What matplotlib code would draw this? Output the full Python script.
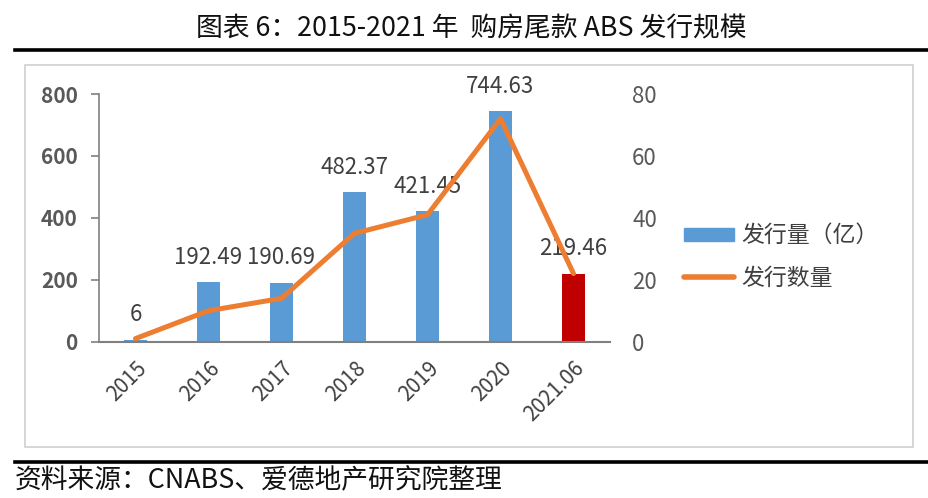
import matplotlib
matplotlib.use("Agg")
import matplotlib.pyplot as plt
from matplotlib.lines import Line2D
from matplotlib.patches import Rectangle

plt.rcParams['font.family'] = ['Noto Sans CJK SC', 'DejaVu Sans']

categories = ['2015', '2016', '2017', '2018', '2019', '2020', '2021.06']
amount = [6, 192.49, 190.69, 482.37, 421.45, 744.63, 219.46]
count = [1, 10, 14, 35, 41, 72, 22]
amount_labels = ['6', '192.49', '190.69', '482.37', '421.45', '744.63', '219.46']
left_ticks = [0, 200, 400, 600, 800]
right_ticks = [0, 20, 40, 60, 80]

W, H = 929, 498
fig = plt.figure(figsize=(W / 100, H / 100), dpi=100)

# title, separator lines, chart border, source
fig.text(471 / W, 1 - 29 / H, '图表 6：2015-2021 年  购房尾款 ABS 发行规模', ha='center', va='center',
         fontsize=19.3, color='#111111')
fig.add_artist(Line2D([15 / W, 1.0], [1 - 50 / H, 1 - 50 / H], color='black', lw=2.6, transform=fig.transFigure))
fig.add_artist(Line2D([15 / W, 1.0], [1 - 462 / H, 1 - 462 / H], color='black', lw=2.6, transform=fig.transFigure))
fig.add_artist(Rectangle((25 / W, 1 - 447 / H), (913 - 25) / W, (447 - 65) / H, fill=False,
                         edgecolor='#d0d0d0', lw=1.2, transform=fig.transFigure))
fig.text(15 / W, 1 - 481 / H, '资料来源：CNABS、爱德地产研究院整理', ha='left', va='center',
         fontsize=19.3, color='#111111')

ax = fig.add_axes([99 / W, 1 - 341.7 / H, (610 - 99) / W, (341.7 - 94) / H])
x = list(range(len(categories)))
colors = ['#5B9BD5'] * (len(categories) - 1) + ['#C00000']
bars = ax.bar(x, amount, width=0.32, color=colors, zorder=2)
ax.set_xlim(-0.5, len(categories) - 0.5)
ax.set_ylim(0, 800)
ax.set_yticks(left_ticks)
ax.set_yticklabels([str(t) for t in left_ticks], fontsize=15, fontweight='bold', color='#595959')
ax.set_xticks(x)
ax.set_xticklabels(categories, rotation=45, ha='right', rotation_mode='anchor', fontsize=15, color='#404040')
ax.tick_params(axis='x', length=0, pad=11)
ax.tick_params(axis='y', length=5.8, color='#808080', pad=9.5, width=1.2)
for s in ['top', 'right']:
    ax.spines[s].set_visible(False)
ax.spines['left'].set_color('#808080')
ax.spines['bottom'].set_color('#808080')
ax.spines['left'].set_linewidth(1.2)
ax.spines['bottom'].set_linewidth(1.5)

for xi, v, lab in zip(x, amount, amount_labels):
    ax.annotate(lab, (xi, v), xytext=(0, 18), textcoords='offset points', ha='center', va='center',
                fontsize=16, color='#404040', zorder=5)

ax2 = ax.twinx()
ax2.plot(x, count, color='#ED7D31', lw=3.6, solid_capstyle='round', zorder=3)
ax2.set_ylim(0, 80)
ax2.set_yticks(right_ticks)
ax2.set_yticklabels([str(t) for t in right_ticks], fontsize=16, color='#595959')
ax2.tick_params(axis='y', length=0, pad=16)
for s in ['top', 'right', 'left', 'bottom']:
    ax2.spines[s].set_visible(False)

handles = [Rectangle((0, 0), 1, 1, color='#5B9BD5'), Line2D([], [], color='#ED7D31', lw=4, solid_capstyle='round')]
fig.legend(handles, ['发行量（亿）', '发行数量'], loc='center left', bbox_to_anchor=(663 / W, 1 - 257 / H),
           frameon=False, fontsize=16.5, handlelength=2.2, handleheight=0.5, handletextpad=0.3,
           labelspacing=0.85, labelcolor='#404040')

fig.savefig('out.png', dpi=100)
